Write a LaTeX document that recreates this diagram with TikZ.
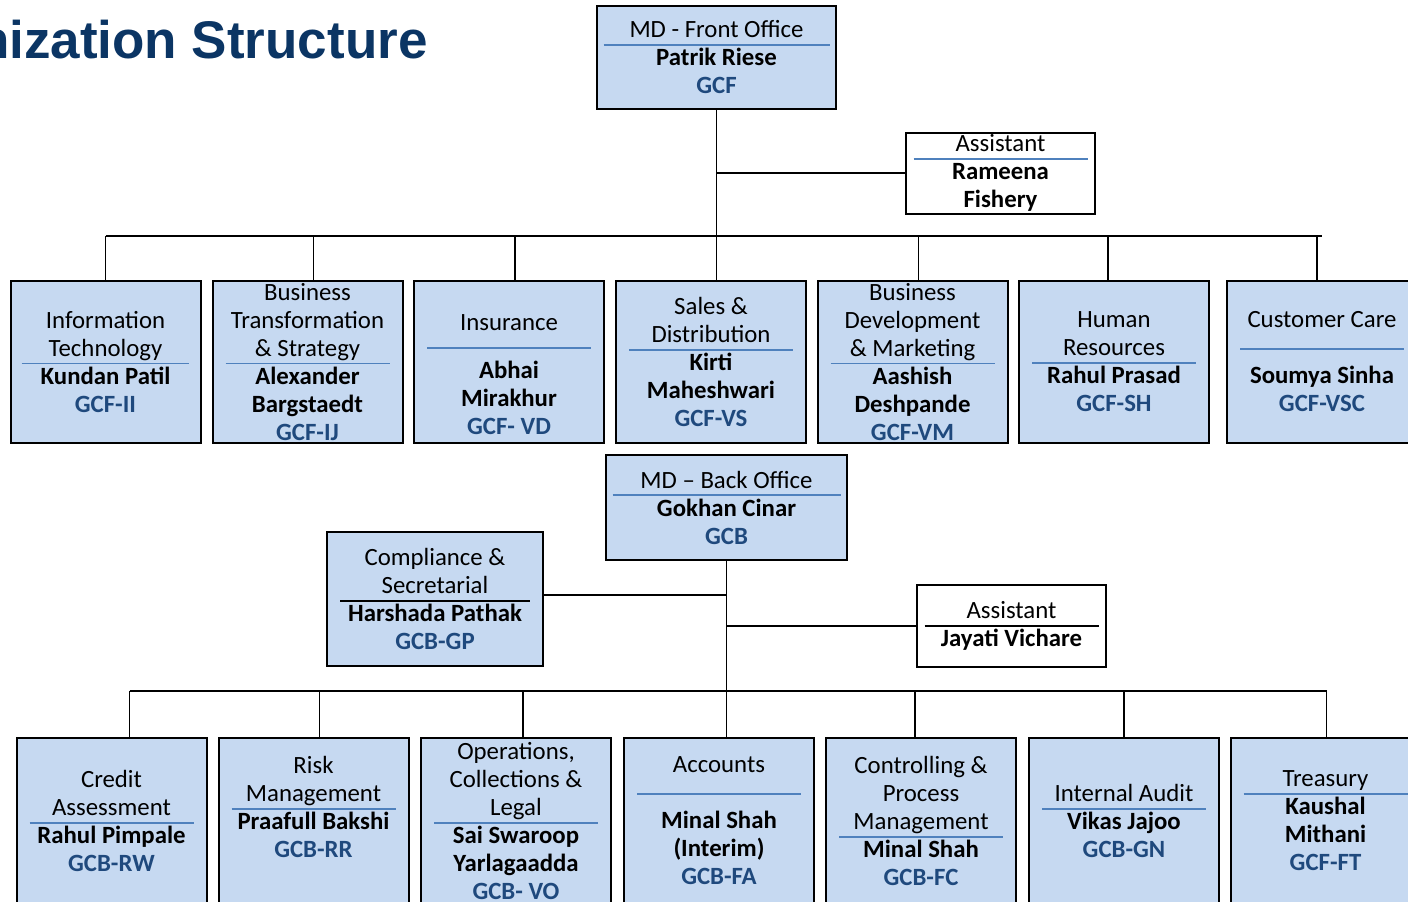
\documentclass[tikz,border=0pt]{standalone}
\usepackage{fontspec}
\setmainfont{Carlito}
\newfontfamily\headfont{Liberation Sans}
\usepackage{tikz}
\usetikzlibrary{positioning}

\definecolor{boxblue}{HTML}{C6D9F1}
\definecolor{rulblue}{HTML}{4F81BD}
\definecolor{codeblue}{HTML}{1F497D}
\definecolor{headblue}{HTML}{0B3564}

\newcommand{\code}[1]{\textcolor{codeblue}{\textbf{#1}}}
\NewDocumentCommand{\divider}{O{0pt}O{10pt}mm}{\\[#1]\raisebox{#2}[0pt][0pt]{\textcolor{#4}{\rule{#3}{0.9pt}}}\\[-14pt]}

\tikzset{
  dept/.style={draw, line width=1pt, fill=boxblue, inner sep=0pt, align=center,
    minimum width=95pt, minimum height=81pt, font=\fontsize{12.4}{14}\selectfont},
  deptlow/.style={dept, minimum height=83pt},
  head/.style={dept, minimum width=120pt, minimum height=52pt},
  assist/.style={dept, fill=white, minimum width=94.5pt, minimum height=40.5pt},
  link/.style={line width=0.9pt}
}

\begin{document}
\begin{tikzpicture}[x=0.5pt,y=-0.5pt]
			\clip (0,0) rectangle (1408,901);
			\node[anchor=base east, inner sep=0pt, text=headblue, font=\headfont\bfseries\fontsize{26.5}{30}\selectfont] (title) at (428,58) {Organization Structure};

			\node[head, minimum width=119.5pt, minimum height=51.5pt] (mdf) at (716.5,57.5) {MD - Front Office\divider{113pt}{rulblue}\textbf{Patrik Riese}\\\code{GCF}};
			\node[assist] (asf) at (1000.5,173) {Assistant\divider{87pt}{rulblue}\textbf{Rameena}\\\textbf{Fishery}};

			\node[dept] (it) at (105.5,362) {Information\\Technology\divider{84pt}{rulblue}\textbf{Kundan Patil}\\\code{GCF-II}};
			\node[dept] (bts) at (307.5,362) {Business\\Transformation\\\& Strategy\divider{82pt}{rulblue}\textbf{Alexander}\\\textbf{Bargstaedt}\\\code{GCF-IJ}};
			\node[dept] (ins) at (509,362) {\rule{0pt}{7pt}\\Insurance\divider[10pt][15pt]{82pt}{rulblue}\textbf{Abhai}\\\textbf{Mirakhur}\\\code{GCF- VD}};
			\node[dept] (sd) at (711,362) {Sales \&\\Distribution\divider{82pt}{rulblue}\textbf{Kirti}\\\textbf{Maheshwari}\\\code{GCF-VS}};
			\node[dept] (bdm) at (912.5,362) {Business\\Development\\\& Marketing\divider{82pt}{rulblue}\textbf{Aashish}\\\textbf{Deshpande}\\\code{GCF-VM}};
			\node[dept] (hr) at (1114,362) {Human\\Resources\divider{82pt}{rulblue}\textbf{Rahul Prasad}\\\code{GCF-SH}};
			\node[dept] (cc) at (1322,362) {Customer Care\divider[14pt][17pt]{82pt}{rulblue}\textbf{Soumya Sinha}\\\code{GCF-VSC}};

			\coordinate (bus1) at (0,236);
			\draw[link] (mdf.south) -- (mdf.south |- sd.north);
			\draw[link] (mdf.south |- asf.west) -- (asf.west);
			\draw[link] (it.north |- bus1) -- (cc.north |- bus1);
			\draw[link] (it.north) -- (it.north |- bus1)
				([xshift=3pt]bts.north) -- ([xshift=3pt]bts.north |- bus1)
				([xshift=3pt]ins.north) -- ([xshift=3pt]ins.north |- bus1)
				([xshift=3pt]bdm.north) -- ([xshift=3pt]bdm.north |- bus1)
				([xshift=-3pt]hr.north) -- ([xshift=-3pt]hr.north |- bus1)
				([xshift=-2.5pt]cc.north) -- ([xshift=-2.5pt]cc.north |- bus1);

			\node[head, minimum width=120.5pt, minimum height=52.5pt] (mdb) at (726.5,507.5) {MD -- Back Office\divider{114pt}{rulblue}\textbf{Gokhan Cinar}\\\code{GCB}};
			\node[dept, minimum width=108pt, minimum height=67pt] (comp) at (435,599) {Compliance \&\\Secretarial\divider{95pt}{black}\textbf{Harshada Pathak}\\\code{GCB-GP}};
			\node[assist, minimum height=41pt] (asb) at (1011.5,626) {Assistant\divider{87pt}{black}\textbf{Jayati Vichare}};

			\node[deptlow] (ca) at (111.5,821) {Credit\\Assessment\divider{82pt}{rulblue}\textbf{Rahul Pimpale}\\\code{GCB-RW}};
			\node[deptlow] (rm) at (313.5,821) {Risk\\Management\divider{82pt}{rulblue}\textbf{Praafull Bakshi}\\\code{GCB-RR}\\\mbox{}};
			\node[deptlow] (ops) at (516,821) {Operations,\\Collections \&\\Legal\divider{82pt}{rulblue}\textbf{Sai Swaroop}\\\textbf{Yarlagaadda}\\\code{GCB- VO}};
			\node[deptlow] (acc) at (719,821) {Accounts\divider[14pt][17pt]{82pt}{rulblue}\textbf{Minal Shah}\\\textbf{(Interim)}\\\code{GCB-FA}};
			\node[deptlow] (cpm) at (921,821) {Controlling \&\\Process\\Management\divider{82pt}{rulblue}\textbf{Minal Shah}\\\code{GCB-FC}};
			\node[deptlow] (ia) at (1124,821) {Internal Audit\divider{82pt}{rulblue}\textbf{Vikas Jajoo}\\\code{GCB-GN}};
			\node[deptlow] (tr) at (1325.5,821) {Treasury\divider{82pt}{rulblue}\textbf{Kaushal}\\\textbf{Mithani}\\\code{GCF-FT}};

			\coordinate (bus2) at (0,691);
			\draw[link] (mdb.south) -- (mdb.south |- acc.north);
			\draw[link] ([yshift=2pt]comp.east) -- ([yshift=2pt]comp.east -| mdb.south);
			\draw[link] (mdb.south |- asb.west) -- (asb.west);
			\draw[link] ([xshift=9pt]ca.north |- bus2) -- ([xshift=0.5pt]tr.north |- bus2);
			\draw[link] ([xshift=9pt]ca.north) -- ([xshift=9pt]ca.north |- bus2)
				([xshift=3pt]rm.north) -- ([xshift=3pt]rm.north |- bus2)
				([xshift=3.5pt]ops.north) -- ([xshift=3.5pt]ops.north |- bus2)
				([xshift=-3pt]cpm.north) -- ([xshift=-3pt]cpm.north |- bus2)
				(ia.north) -- (ia.north |- bus2)
				([xshift=0.5pt]tr.north) -- ([xshift=0.5pt]tr.north |- bus2);
		\end{tikzpicture}
\end{document}
